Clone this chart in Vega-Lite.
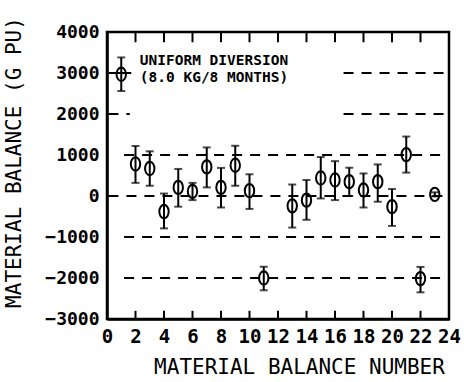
{
  "$schema": "https://vega.github.io/schema/vega-lite/v6.json",
  "width": 342,
  "height": 287,
  "autosize": "none",
  "padding": {"left": 107, "top": 32, "right": 15, "bottom": 63},
  "background": "white",
  "config": {
    "view": {"stroke": "black", "strokeWidth": 2.5},
    "font": "DejaVu Sans Mono"
  },
  "resolve": {"axis": {"x": "independent", "y": "independent"}},
  "datasets": {
    "pts": [
      {"n": 2, "v": 780, "lo": 320, "hi": 1220},
      {"n": 3, "v": 670, "lo": 250, "hi": 1090},
      {"n": 4, "v": -380, "lo": -790, "hi": 60},
      {"n": 5, "v": 210, "lo": -260, "hi": 660},
      {"n": 6, "v": 113, "lo": -100, "hi": 320},
      {"n": 7, "v": 710, "lo": 210, "hi": 1185},
      {"n": 8, "v": 210, "lo": -280, "hi": 685},
      {"n": 9, "v": 750, "lo": 250, "hi": 1225},
      {"n": 10, "v": 130, "lo": -315, "hi": 530},
      {"n": 11, "v": -2000, "lo": -2300, "hi": -1725},
      {"n": 13, "v": -240, "lo": -770, "hi": 280},
      {"n": 14, "v": -100, "lo": -580, "hi": 390},
      {"n": 15, "v": 440, "lo": -60, "hi": 950},
      {"n": 16, "v": 390, "lo": -100, "hi": 850},
      {"n": 17, "v": 350, "lo": 0, "hi": 690},
      {"n": 18, "v": 145, "lo": -280, "hi": 550},
      {"n": 19, "v": 350, "lo": -140, "hi": 770},
      {"n": 20, "v": -260, "lo": -730, "hi": 170},
      {"n": 21, "v": 1010, "lo": 570, "hi": 1450},
      {"n": 22, "v": -2015, "lo": -2350, "hi": -1730},
      {"n": 23, "v": 40, "lo": -10, "hi": 90},
      {"n": 1, "v": 2970, "lo": 2560, "hi": 3380}
    ],
    "lines": [
      {"y": 3000, "x1": 16.6, "x2": 23.7},
      {"y": 2000, "x1": 16.6, "x2": 23.7},
      {"y": 2000, "x1": 0.1, "x2": 1.6},
      {"y": 1000, "x1": 1.2, "x2": 23.7},
      {"y": 0, "x1": 0.1, "x2": 23.7},
      {"y": -1000, "x1": 1.2, "x2": 23.7},
      {"y": -2000, "x1": 1.2, "x2": 23.7}
    ],
    "frameticks": [
      {"t": 2, "top": 4000, "bot": 3750, "b0": -3000, "b1": -2800},
      {"t": 4, "top": 4000, "bot": 3750, "b0": -3000, "b1": -2800},
      {"t": 6, "top": 4000, "bot": 3750, "b0": -3000, "b1": -2800},
      {"t": 8, "top": 4000, "bot": 3750, "b0": -3000, "b1": -2800},
      {"t": 10, "top": 4000, "bot": 3750, "b0": -3000, "b1": -2800},
      {"t": 12, "top": 4000, "bot": 3750, "b0": -3000, "b1": -2800},
      {"t": 14, "top": 4000, "bot": 3750, "b0": -3000, "b1": -2800},
      {"t": 16, "top": 4000, "bot": 3750, "b0": -3000, "b1": -2800},
      {"t": 18, "top": 4000, "bot": 3750, "b0": -3000, "b1": -2800},
      {"t": 20, "top": 4000, "bot": 3750, "b0": -3000, "b1": -2800},
      {"t": 22, "top": 4000, "bot": 3750, "b0": -3000, "b1": -2800}
    ],
    "legline": [{"y": 3000, "x1": 0.1, "x2": 1.7}],
    "labels": [
      {"x": 2.3, "y": 3200, "t": "UNIFORM DIVERSION"},
      {"x": 2.3, "y": 2790, "t": "(8.0 KG/8 MONTHS)"}
    ]
  },
  "layer": [
    {
      "data": {"name": "lines"},
      "mark": {"type": "rule", "strokeDash": [10, 8], "strokeWidth": 2, "color": "black"},
      "encoding": {
        "x": {"field": "x1", "type": "quantitative",
          "scale": {"domain": [0, 24], "nice": false},
          "axis": {
            "values": [0, 2, 4, 6, 8, 10, 12, 14, 16, 18, 20, 22, 24],
            "format": "d",
            "title": "MATERIAL BALANCE NUMBER",
            "titleFont": "DejaVu Sans Mono", "titleFontSize": 21, "titleFontWeight": "normal",
            "titleColor": "black", "titleX": 192, "titleY": 54, "titleAlign": "center", "titleBaseline": "alphabetic",
            "labelFont": "DejaVu Sans Mono", "labelFontSize": 19, "labelFontWeight": "bold", "labelColor": "black",
            "labelPadding": 8, "labelFlush": false, "labelOverlap": false, "labelBound": false,
            "ticks": false,
            "domainColor": "black", "domainWidth": 2.5, "grid": false
          }
        },
        "x2": {"field": "x2"},
        "y": {"field": "y", "type": "quantitative",
          "scale": {"domain": [-3000, 4000], "nice": false},
          "axis": {
            "values": [-3000, -2000, -1000, 0, 1000, 2000, 3000, 4000],
            "format": "d",
            "title": "MATERIAL BALANCE (G PU)",
            "titleFont": "DejaVu Sans Mono", "titleFontSize": 21, "titleFontWeight": "normal",
            "titleColor": "black", "titleX": -87, "titleY": 130, "titleAngle": -90, "titleAlign": "center", "titleBaseline": "alphabetic",
            "labelFont": "DejaVu Sans Mono", "labelFontSize": 18, "labelFontWeight": "bold", "labelColor": "black",
            "labelPadding": 8, "labelFlush": false, "labelOverlap": false,
            "ticks": false, "domainColor": "black", "domainWidth": 2.5, "grid": false
          }
        }
      }
    },
    {
      "data": {"name": "frameticks"},
      "mark": {"type": "rule", "strokeWidth": 2, "color": "black"},
      "encoding": {
        "x": {"field": "t", "type": "quantitative", "axis": null},
        "y": {"field": "top", "type": "quantitative", "axis": null},
        "y2": {"field": "bot"}
      }
    },
    {
      "data": {"name": "frameticks"},
      "mark": {"type": "rule", "strokeWidth": 2, "color": "black"},
      "encoding": {
        "x": {"field": "t", "type": "quantitative", "axis": null},
        "y": {"field": "b0", "type": "quantitative", "axis": null},
        "y2": {"field": "b1"}
      }
    },
    {
      "data": {"name": "legline"},
      "mark": {"type": "rule", "strokeWidth": 2, "color": "black"},
      "encoding": {
        "x": {"field": "x1", "type": "quantitative", "axis": null},
        "x2": {"field": "x2"},
        "y": {"field": "y", "type": "quantitative", "axis": null}
      }
    },
    {
      "data": {"name": "pts"},
      "mark": {"type": "rule", "strokeWidth": 2, "color": "black"},
      "encoding": {
        "x": {"field": "n", "type": "quantitative", "axis": null},
        "y": {"field": "lo", "type": "quantitative", "axis": null},
        "y2": {"field": "hi"}
      }
    },
    {
      "data": {"name": "pts"},
      "mark": {"type": "tick", "orient": "horizontal", "thickness": 2, "size": 8, "color": "black"},
      "encoding": {
        "x": {"field": "n", "type": "quantitative", "axis": null},
        "y": {"field": "hi", "type": "quantitative", "axis": null}
      }
    },
    {
      "data": {"name": "pts"},
      "mark": {"type": "tick", "orient": "horizontal", "thickness": 2, "size": 8, "color": "black"},
      "encoding": {
        "x": {"field": "n", "type": "quantitative", "axis": null},
        "y": {"field": "lo", "type": "quantitative", "axis": null}
      }
    },
    {
      "data": {"name": "pts"},
      "mark": {"type": "point", "shape": "M0,-1A0.7,1 0 1,1 0,1A0.7,1 0 1,1 0,-1Z", "size": 180, "filled": false, "stroke": "black", "strokeWidth": 2, "opacity": 1},
      "encoding": {
        "x": {"field": "n", "type": "quantitative", "axis": null},
        "y": {"field": "v", "type": "quantitative", "axis": null}
      }
    },
    {
      "data": {"name": "labels"},
      "mark": {"type": "text", "align": "left", "baseline": "alphabetic", "font": "DejaVu Sans Mono", "fontSize": 14.5, "fontWeight": "bold", "color": "black"},
      "encoding": {
        "x": {"field": "x", "type": "quantitative", "axis": null},
        "y": {"field": "y", "type": "quantitative", "axis": null},
        "text": {"field": "t"}
      }
    }
  ]
}
